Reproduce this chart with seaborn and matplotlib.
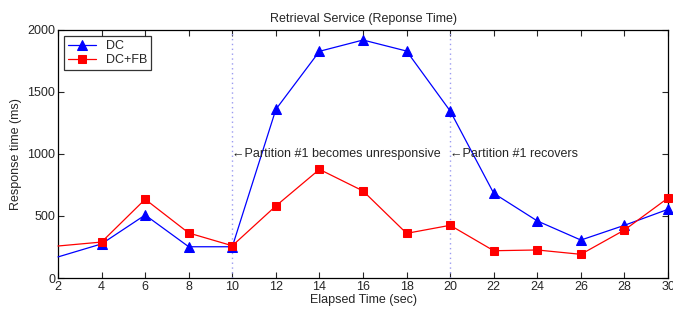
import matplotlib
matplotlib.use("Agg")
import matplotlib.pyplot as plt
import seaborn as sns
import pandas as pd

elapsed = [2, 4, 6, 8, 10, 12, 14, 16, 18, 20, 22, 24, 26, 28, 30]
dc = [170, 275, 508, 252, 252, 1360, 1828, 1919, 1830, 1347, 683, 460, 306, 425, 554]
dc_fb = [258, 290, 635, 363, 260, 581, 876, 702, 360, 425, 220, 226, 191, 387, 645]
events = [10, 20]
event_labels = ["\u2190Partition #1 becomes unresponsive", "\u2190Partition #1 recovers"]
x_ticks = list(range(2, 31, 2))
y_ticks = [0, 500, 1000, 1500, 2000]

sns.set_style("white")
plt.rcParams['font.family'] = ['Liberation Sans', 'DejaVu Sans']
plt.rcParams['font.size'] = 9

fig = plt.figure(figsize=(6.73, 3.09), dpi=100)
ax = fig.add_axes([0.0862, 0.1003, 0.9064, 0.8027])

df = pd.DataFrame({"t": elapsed, "DC": dc, "DC+FB": dc_fb})

for ev in events:
    ax.axvline(ev, color="#9b9bf0", linestyle=(0, (1, 2.5)), linewidth=1.0, zorder=1)

sns.lineplot(data=df, x="t", y="DC", ax=ax, color="blue", marker="^", markersize=7,
             markeredgecolor="blue", linewidth=0.9, label="DC", markevery=list(range(1, len(elapsed))),
             clip_on=False, zorder=3)
sns.lineplot(data=df, x="t", y="DC+FB", ax=ax, color="red", marker="s", markersize=6,
             markeredgecolor="red", linewidth=0.9, label="DC+FB", markevery=list(range(1, len(elapsed))),
             clip_on=False, zorder=3)

for ev, lab in zip(events, event_labels):
    ax.text(ev, 1000, lab, ha="left", va="center", fontsize=9)

ax.set_xlim(2, 30)
ax.set_ylim(0, 2000)
ax.set_xticks(x_ticks)
ax.set_yticks(y_ticks)
ax.set_xlabel("Elapsed Time (sec)", fontsize=9, labelpad=1)
ax.set_ylabel("Response time (ms)", fontsize=9, labelpad=4)
ax.set_title("Retrieval Service (Reponse Time)", fontsize=9, pad=6)
ax.tick_params(direction="in", length=4, width=0.8, top=True, right=True, bottom=True, left=True,
               labelsize=9, pad=2)
for s in ax.spines.values():
    s.set_visible(True)
    s.set_color("black")
    s.set_linewidth(0.9)

leg = ax.legend(loc="upper left", frameon=True, fancybox=False, edgecolor="black",
                fontsize=9, borderpad=0.3, labelspacing=0.2, handlelength=2.2,
                borderaxespad=0.5)
leg.get_frame().set_linewidth(0.9)

fig.savefig("out.png", dpi=100)
